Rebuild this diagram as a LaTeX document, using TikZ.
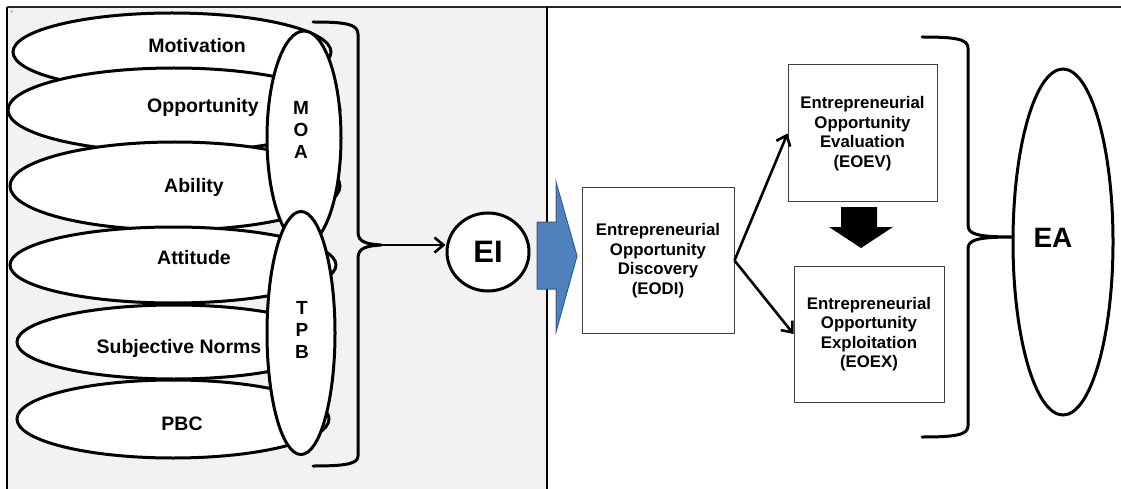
\documentclass[tikz,border=0pt]{standalone}
\usepackage{fontspec}
\setmainfont{Liberation Sans}
\usetikzlibrary{shapes.geometric,arrows.meta}
\definecolor{panelgray}{HTML}{F2F2F2}
\definecolor{blockblue}{HTML}{4F81BD}
\definecolor{blockedge}{HTML}{385D8A}
\tikzset{
  oval/.style={ellipse, draw=black, fill=white, line width=3pt, inner sep=0pt},
  factor/.style={font=\fontsize{19.5}{22}\selectfont\bfseries, inner sep=0pt},
  stack/.style={font=\fontsize{19}{22}\selectfont\bfseries, align=center, inner sep=0pt},
  stagebox/.style={draw=black!75, fill=white, line width=1pt, align=center,
    font=\fontsize{16.8}{19.5}\selectfont\bfseries, inner sep=0pt},
  brace/.style={line width=3pt, line cap=round, line join=round},
  flow/.style={line width=2.6pt, -{Straight Barb[length=9pt,width=15pt,line width=2.6pt]}},
}
\begin{document}
\begin{tikzpicture}[x=1pt,y=-1pt]
\useasboundingbox (0,0) rectangle (1121,489);

% table frame: shaded left cell, plain right cell
\fill[panelgray] (7,7) rectangle (547,489);
\draw[line width=1.6pt, black!85] (7,7) -- (1121,7);
\draw[line width=1.2pt] (7,7) -- (7,489);
\draw[line width=1.2pt] (547,7) -- (547,489);
\node[font=\fontsize{8}{8}\selectfont, inner sep=0pt] (tick) at (12,14) {`};

% determinant ovals
\node[oval, minimum width=318pt, minimum height=78pt] (mot) at (172,52) {};
\node[oval, minimum width=332pt, minimum height=84pt] (opp) at (174,110) {};
\node[oval, minimum width=330pt, minimum height=88pt] (abi) at (175,186) {};
\node[oval, minimum width=326pt, minimum height=76pt] (att) at (173,265) {};
\node[oval, minimum width=314pt, minimum height=74pt] (sub) at (174,342) {};
\node[oval, minimum width=312pt, minimum height=78pt] (pbc) at (173,419) {};

\node[factor] (motT) at (197,46) {Motivation};
\node[factor] (oppT) at (203,107) {Opportunity};
\node[factor] (abiT) at (194,187) {Ability};
\node[factor] (attT) at (194,258) {Attitude};
\node[factor] (subT) at (179,348) {Subjective Norms};
\node[factor] (pbcT) at (182,424) {PBC};

% grouping ovals
\node[oval, minimum width=74pt, minimum height=214pt] (moa) at (304,138) {};
\node[oval, minimum width=68pt, minimum height=243pt] (tpb) at (301,333) {};
\node[stack] (moaT) at (301,130) {M\\O\\A};
\node[stack] (tpbT) at (302,330) {T\\P\\B};

% left brace
\coordinate (lb) at (381,245);
\draw[brace] (313,22) .. controls (345,22) and (358,24) .. (358,34)
  -- (358,232) .. controls (358,242) and (366,244) .. (lb)
  .. controls (366,246) and (358,248) .. (358,258)
  -- (358,456) .. controls (358,464) and (345,466) .. (313,466);

% intention
\node[ellipse, draw=black, fill=white, line width=3pt, minimum width=82pt,
  minimum height=78pt, inner sep=0pt, font=\fontsize{31}{31}\selectfont\bfseries] (EI) at (488,252) {EI};
\draw[flow] (lb) -- (lb -| EI.west);

% block arrow into the process
\draw[fill=blockblue, draw=blockedge, line width=1pt, line join=miter]
  (537,222) -- (556,222) -- (556,182) -- (577,256) -- (556,332) -- (556,289) -- (537,289) -- cycle;

% process stages
\node[stagebox, minimum width=152pt, minimum height=145pt] (EODI) at (658,260.5)
  {Entrepreneurial\\Opportunity\\Discovery\\(EODI)};
\node[stagebox, minimum width=149pt, minimum height=137pt] (EOEV) at (862.5,133.5)
  {Entrepreneurial\\Opportunity\\Evaluation\\(EOEV)};
\node[stagebox, minimum width=150pt, minimum height=136pt] (EOEX) at (869,334)
  {Entrepreneurial\\Opportunity\\Exploitation\\(EOEX)};

\draw[flow] (EODI.east) -- (EOEV.west);
\draw[flow] (EODI.east) -- (EOEX.west);

% black block arrow between evaluation and exploitation
\fill[black] (841,207) -- (877,207) -- (877,227) -- (893,227) -- (861,248) -- (829,227) -- (841,227) -- cycle;

% right brace
\coordinate (rb) at (1013,237);
\draw[brace] (922,37) .. controls (955,37) and (968,39) .. (968,48)
  -- (968,225) .. controls (968,234) and (976,237) .. (rb)
  .. controls (976,237) and (968,240) .. (968,249)
  -- (968,426) .. controls (968,435) and (955,437) .. (922,437);

% action
\node[ellipse, draw=black, fill=white, line width=3pt, minimum width=100pt,
  minimum height=346pt, inner sep=0pt] (EA) at (1063,242) {};
\node[font=\fontsize{28}{28}\selectfont\bfseries, inner sep=0pt] (EAT) at (1053,238) {EA};
\end{tikzpicture}
\end{document}
